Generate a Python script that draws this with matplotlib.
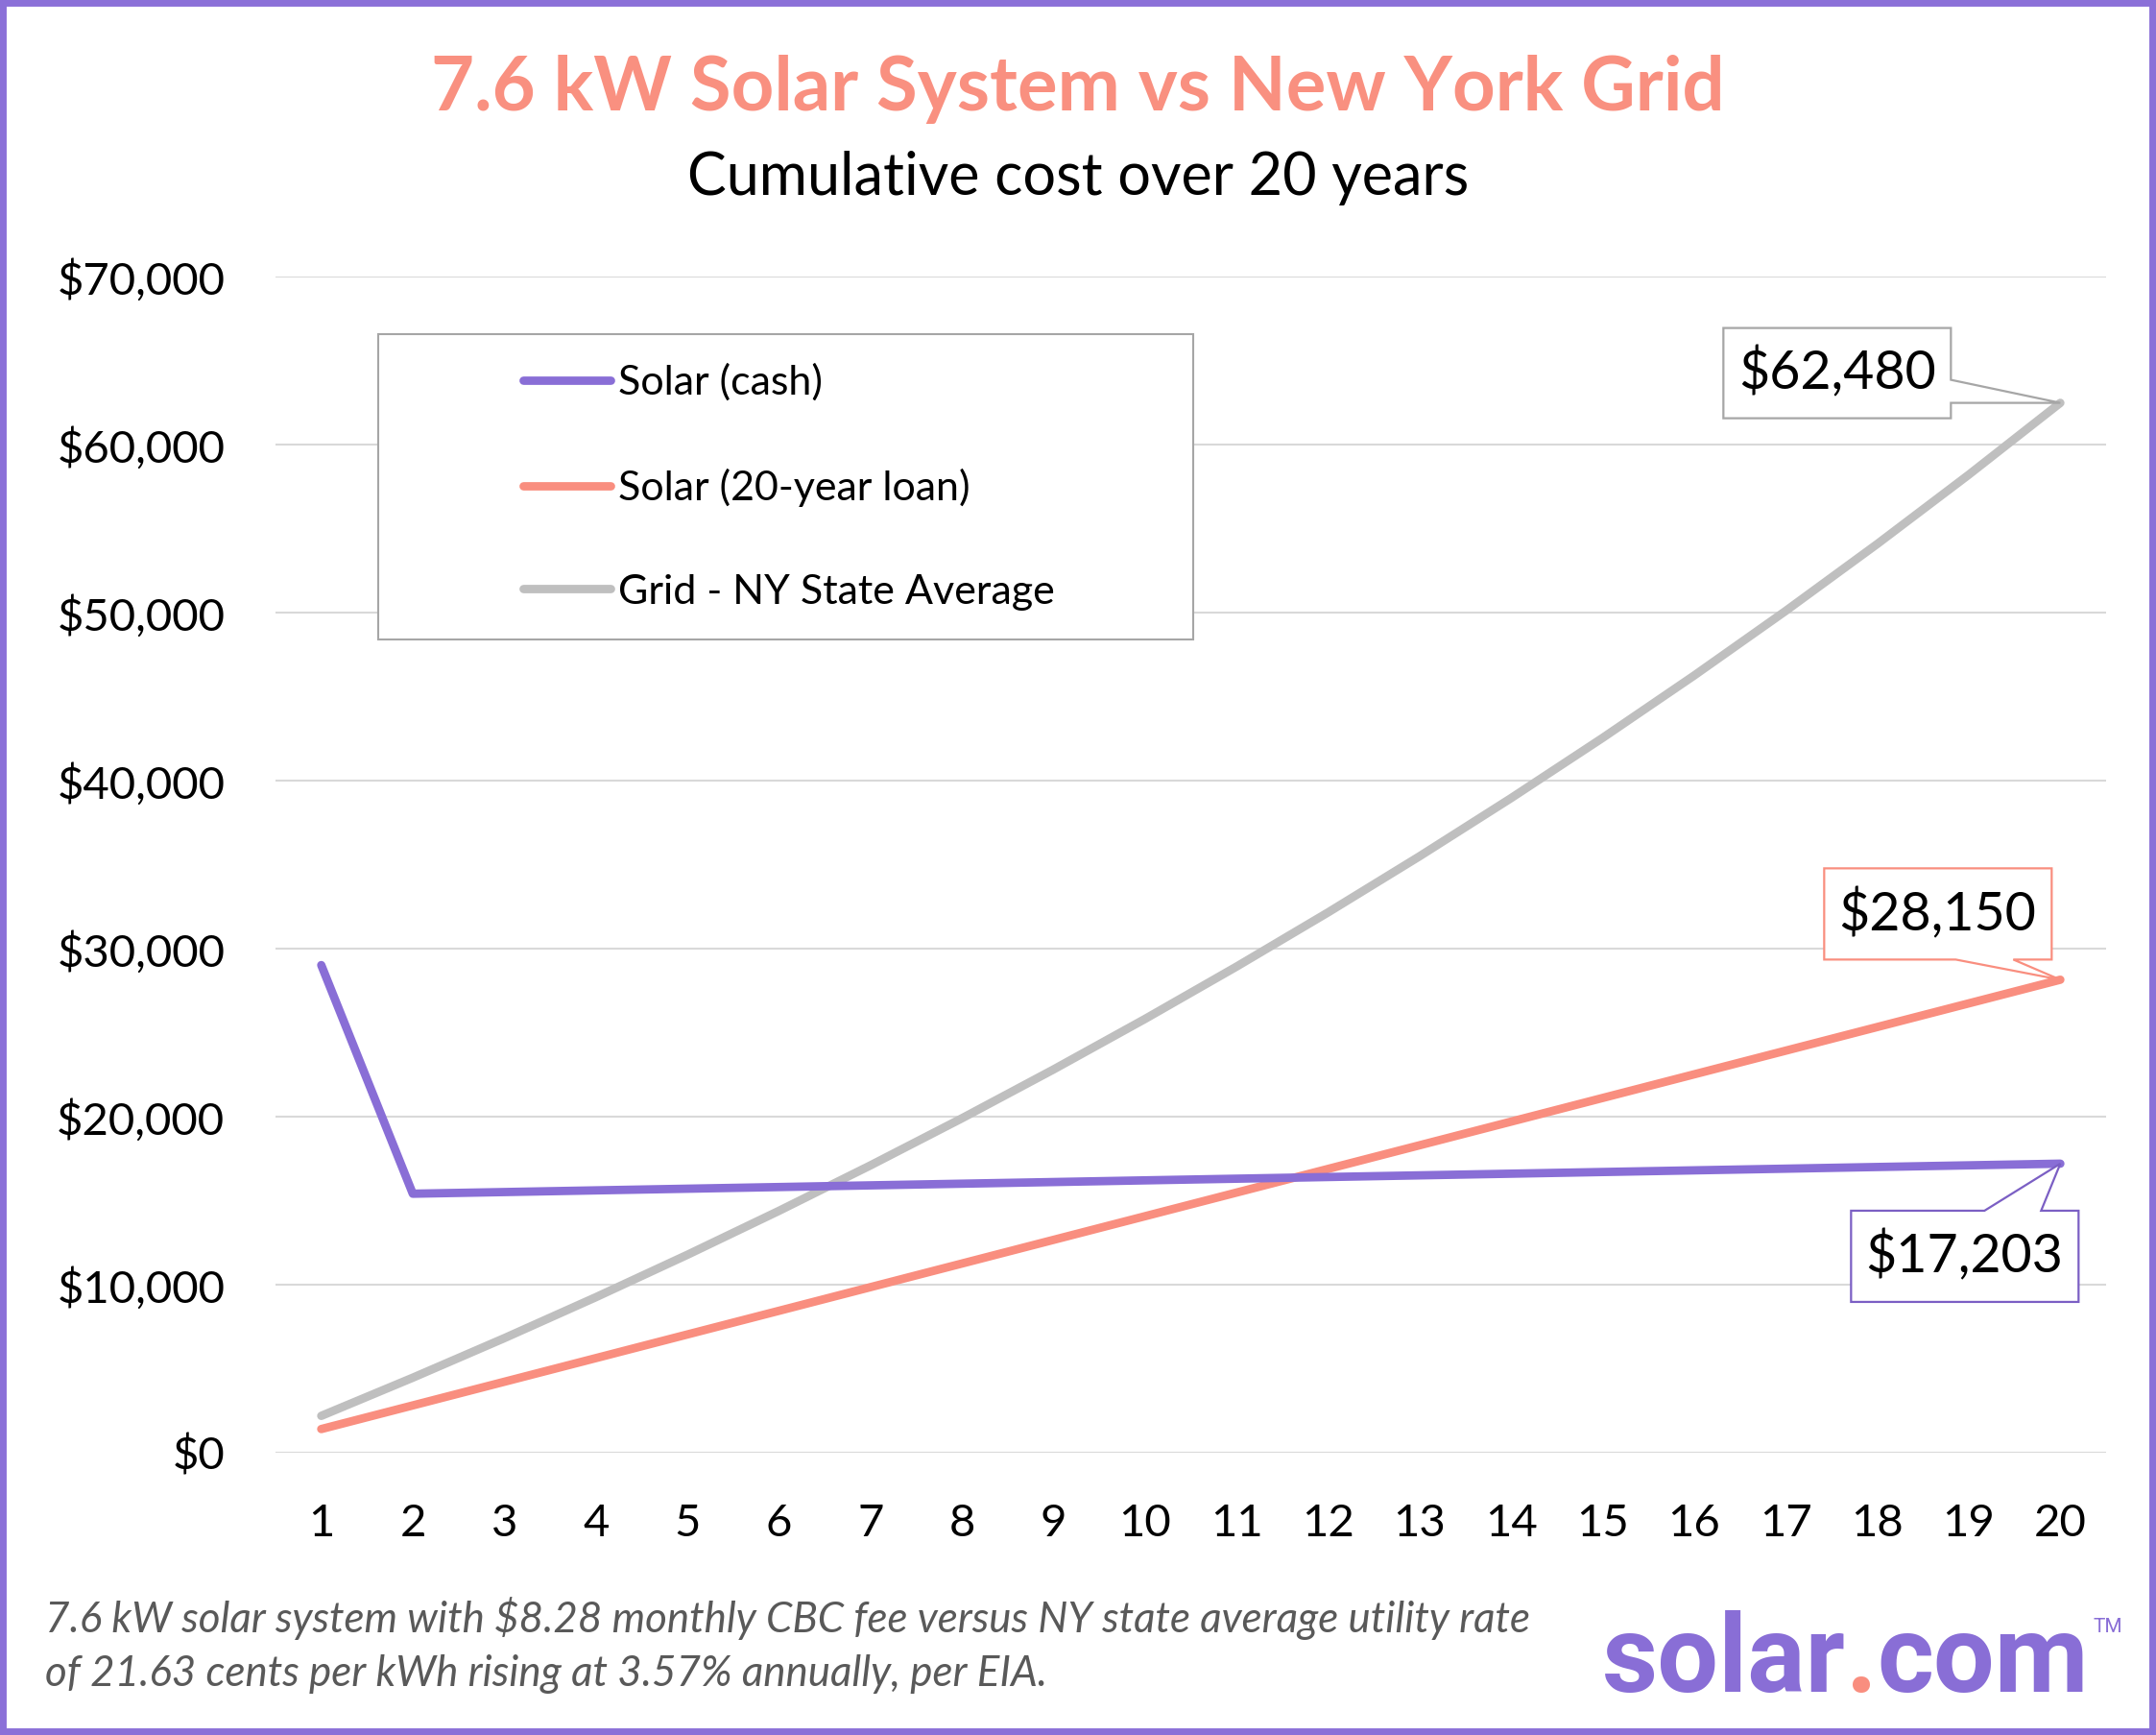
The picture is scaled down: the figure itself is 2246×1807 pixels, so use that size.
import matplotlib.pyplot as plt
import matplotlib.transforms as mtransforms
from matplotlib.patches import Polygon, Rectangle
from matplotlib.ticker import FuncFormatter

# data
years = list(range(1, 21))
solar_cash = [29020, 15414, 15513, 15613, 15712, 15811, 15911, 16010, 16109, 16209,
              16308, 16408, 16507, 16606, 16706, 16805, 16904, 17004, 17103, 17203]
solar_loan = [1408, 2815, 4223, 5630, 7038, 8445, 9853, 11260, 12668, 14075,
              15483, 16890, 18298, 19705, 21113, 22520, 23928, 25335, 26743, 28150]
grid_avg = [2193, 4465, 6818, 9255, 11779, 14393, 17100, 19904, 22808, 25816,
            28931, 32157, 35499, 38960, 42544, 46256, 50101, 54083, 58207, 62480]
series_names = ['Solar (cash)', 'Solar (20-year loan)', 'Grid - NY State Average']
y_ticks = [0, 10000, 20000, 30000, 40000, 50000, 60000, 70000]
footnote = ['7.6 kW solar system with $8.28 monthly CBC fee versus NY state average utility rate',
            'of 21.63 cents per kWh rising at 3.57% annually, per EIA.']

PURPLE = '#896ED6'
SALMON = '#F98E7F'
GRAY = '#BFBFBF'
FONT = 'Lato'

plt.rcParams['font.family'] = FONT

fig = plt.figure(figsize=(22.46, 18.07), dpi=100)
ax = fig.add_axes([287 / 2246, 1 - 1513 / 1807, (2194 - 287) / 2246, (1513 - 288) / 1807])

LW = 6.3
ax.plot(years, grid_avg, color=GRAY, lw=LW, solid_capstyle='round', label=series_names[2], zorder=3)
ax.plot(years, solar_loan, color=SALMON, lw=LW, solid_capstyle='round', label=series_names[1], zorder=3)
ax.plot(years, solar_cash, color=PURPLE, lw=LW, solid_capstyle='round', label=series_names[0], zorder=3)

ax.set_xlim(0.5, 20.5)
ax.set_ylim(0, 70000)
ax.set_xticks(years)
ax.set_yticks(y_ticks)
ax.yaxis.set_major_formatter(FuncFormatter(lambda v, p: '${:,.0f}'.format(v)))
ax.tick_params(length=0, labelsize=34, pad=38)
ax.grid(axis='y', color='#D9D9D9', lw=1.5, zorder=0)
for s in ax.spines.values():
    s.set_visible(False)

# legend inside a separate frame
fig.patches.append(Rectangle((394 / 2246, 1 - 666 / 1807), (1243 - 394) / 2246, (666 - 348) / 1807,
                             transform=fig.transFigure, fill=True, facecolor='white',
                             edgecolor='#A6A6A6', lw=1.5, zorder=1))
h, l = ax.get_legend_handles_labels()
order = [2, 1, 0]
leg = fig.legend([h[i] for i in order], [l[i] for i in order], loc='center',
                 bbox_to_anchor=(822 / 2246, 1 - 507 / 1807), frameon=False, fontsize=31,
                 handlelength=2.1, handletextpad=0.2, labelspacing=1.62)


# callouts: polygon offsets in pixels relative to the last point
def callout(value, text, color, shape, text_xy):
    tr = fig.dpi_scale_trans + mtransforms.ScaledTranslation(years[-1], value, ax.transData)
    pts = [(x / 100, y / 100) for x, y in shape]
    ax.add_artist(Polygon(pts, closed=True, facecolor='white', edgecolor=color, lw=1.6,
                          transform=tr, zorder=5, clip_on=False))
    ax.text(text_xy[0] / 100, text_xy[1] / 100, text, transform=tr, ha='center', va='center',
            fontsize=40, zorder=6)


callout(grid_avg[-1], '${:,}'.format(grid_avg[-1]), '#A6A6A6',
        [(-351, -16), (-114, -16), (-114, 0), (0, 0), (-114, 24), (-114, 78), (-351, 78)], (-232, 31))
callout(solar_loan[-1], '${:,}'.format(solar_loan[-1]), SALMON,
        [(-246, 21), (-109, 21), (0, 0), (-49, 21), (-9, 21), (-9, 116), (-246, 116)], (-128, 68))
callout(solar_cash[-1], '${:,}'.format(solar_cash[-1]), '#7B5FC4',
        [(-218, -144), (19, -144), (19, -49), (-20, -49), (0, 0), (-79, -49), (-218, -49)], (-100, -96))

# titles
fig.text(0.5, 1 - 93 / 1807, '7.6 kW Solar System vs New York Grid', ha='center', va='center',
         fontsize=56, fontweight='bold', color='#F99080')
fig.text(0.5, 1 - 186 / 1807, 'Cumulative cost over 20 years', ha='center', va='center', fontsize=44)

# footnote
for i, line in enumerate(footnote):
    fig.text(47 / 2246, 1 - (1686 + 57 * i) / 1807, line, ha='left', va='center', fontsize=31.6,
             style='italic', color='#595959')

# logo: three pieces, sized so the word spans the reference width
base_y = 1 - 1762 / 1807
parts = [('solar', PURPLE), ('.', SALMON), ('com', PURPLE)]
logo = [fig.text(0, base_y, s, ha='left', va='baseline', fontsize=80, fontweight='bold',
                 color=c, family='Roboto') for s, c in parts]
r = fig.canvas.get_renderer()
total = sum(t.get_window_extent(r).width for t in logo)
size = 80 * 508 / total
x = 1669
for t in logo:
    t.set_fontsize(size)
    t.set_x(x / 2246)
    x += t.get_window_extent(r).width
fig.text((x + 4) / 2246, 1 - 1700 / 1807, 'TM', fontsize=15, color=PURPLE,
         family='Roboto', va='baseline')

# purple frame
fig.patches.append(Rectangle((0, 0), 1, 1, transform=fig.transFigure, fill=False,
                             edgecolor='#8B70D8', lw=10, zorder=10))

fig.savefig('out.png', dpi=100)
